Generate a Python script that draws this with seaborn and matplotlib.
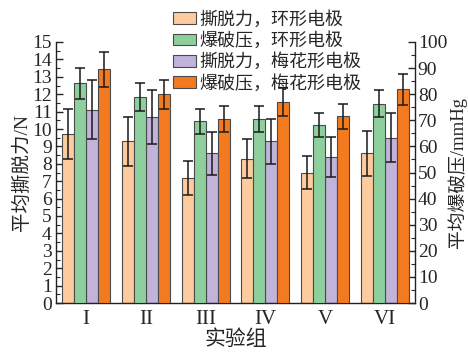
import numpy as np
import pandas as pd
import matplotlib
matplotlib.use("Agg")
import matplotlib.pyplot as plt
import seaborn as sns
from matplotlib.ticker import MultipleLocator
from matplotlib.patches import Patch

groups = ["I", "II", "III", "IV", "V", "VI"]
series = ["撕脱力，环形电极", "爆破压，环形电极", "撕脱力，梅花形电极", "爆破压，梅花形电极"]
colors = ["#FDCB9E", "#8ECF9E", "#C2B3DA", "#F47A20"]

# tear force (N), left axis
peel_ring = [9.7, 9.3, 7.2, 8.3, 7.5, 8.6]
peel_ring_err = [1.45, 1.4, 0.98, 1.12, 0.97, 1.31]
peel_plum = [11.1, 10.7, 8.6, 9.3, 8.4, 9.5]
peel_plum_err = [1.7, 1.55, 1.23, 1.3, 1.15, 1.42]
# burst pressure (mmHg), right axis
burst_ring = [84.2, 78.8, 69.6, 70.5, 68.3, 76.4]
burst_ring_err = [6.0, 5.3, 4.8, 4.9, 4.6, 5.1]
burst_plum = [89.5, 80.0, 70.5, 77.0, 71.5, 81.9]
burst_plum_err = [6.7, 5.5, 5.1, 5.2, 4.9, 6.0]

sns.set_style("ticks")
plt.rcParams["font.family"] = ["Liberation Serif", "Noto Sans CJK SC"]
plt.rcParams["axes.unicode_minus"] = False

fig = plt.figure(figsize=(4.68, 3.52), dpi=100)
ax = fig.add_axes([56 / 468, 1 - 303 / 352, (415 - 56) / 468, (303 - 42) / 352])
ax2 = ax.twinx()

df_n = pd.DataFrame({
    "group": groups * 2,
    "series": [series[0]] * 6 + [series[2]] * 6,
    "value": peel_ring + peel_plum,
    "err": peel_ring_err + peel_plum_err,
})
df_p = pd.DataFrame({
    "group": groups * 2,
    "series": [series[1]] * 6 + [series[3]] * 6,
    "value": burst_ring + burst_plum,
    "err": burst_ring_err + burst_plum_err,
})
pal = dict(zip(series, colors))

def draw(axis, df):
    sns.barplot(data=df, x="group", y="value", hue="series", hue_order=series,
                order=groups, palette=pal, dodge=True, width=0.8, errorbar=None,
                saturation=1, edgecolor="#4a4a4a", linewidth=0.8, legend=False, ax=axis)
    present = [s for s in series if s in set(df["series"])]
    conts = [c for c in axis.containers if len(c.patches) > 0]
    for lab, cont in zip(present, conts):
        sub = df[df["series"] == lab]
        errs = dict(zip(sub["group"], sub["err"]))
        xs = [p.get_x() + p.get_width() / 2 for p in cont.patches]
        hs = [p.get_height() for p in cont.patches]
        axis.errorbar(xs, hs, yerr=[errs[g] for g in groups], fmt="none", ecolor="#1a1a1a",
                      elinewidth=1.1, capsize=3.5, capthick=1.1, zorder=5)

draw(ax, df_n)
draw(ax2, df_p)

ax.set_xlim(-0.5, 5.5)
ax.set_ylim(0, 15)
ax2.set_ylim(0, 100)
ax.yaxis.set_major_locator(MultipleLocator(1))
ax.yaxis.set_minor_locator(MultipleLocator(0.5))
ax2.yaxis.set_major_locator(MultipleLocator(10))
ax2.yaxis.set_minor_locator(MultipleLocator(5))

for a in (ax, ax2):
    a.spines["top"].set_visible(False)
    for s in a.spines.values():
        s.set_linewidth(1.0)
        s.set_color("#222222")
ax.spines["right"].set_visible(False)
ax2.spines["left"].set_visible(False)
ax2.spines["bottom"].set_visible(False)

ax.tick_params(axis="y", which="major", direction="in", length=5, width=1, labelsize=14, pad=3)
ax.tick_params(axis="y", which="minor", direction="in", length=3, width=0.8)
ax.tick_params(axis="x", length=0, labelsize=15, pad=5)
ax2.tick_params(axis="y", which="major", direction="in", length=5, width=1, labelsize=14, pad=2)
ax2.tick_params(axis="y", which="minor", direction="in", length=3, width=0.8)

ax.set_xlabel("实验组", fontsize=15, labelpad=1)
ax.set_ylabel("平均撕脱力/N", fontsize=14, labelpad=1)
ax2.set_ylabel("平均爆破压/mmHg", fontsize=13.5, labelpad=0)

handles = [Patch(facecolor=c, edgecolor="#4a4a4a", linewidth=0.8) for c in colors]
ax.legend(handles, series, loc="upper left", bbox_to_anchor=(0.325, 1.12), frameon=False,
          fontsize=13, handlelength=1.3, handleheight=0.62, handletextpad=0.15,
          labelspacing=0.2, borderaxespad=0, borderpad=0)

fig.savefig("out.png", dpi=100)
